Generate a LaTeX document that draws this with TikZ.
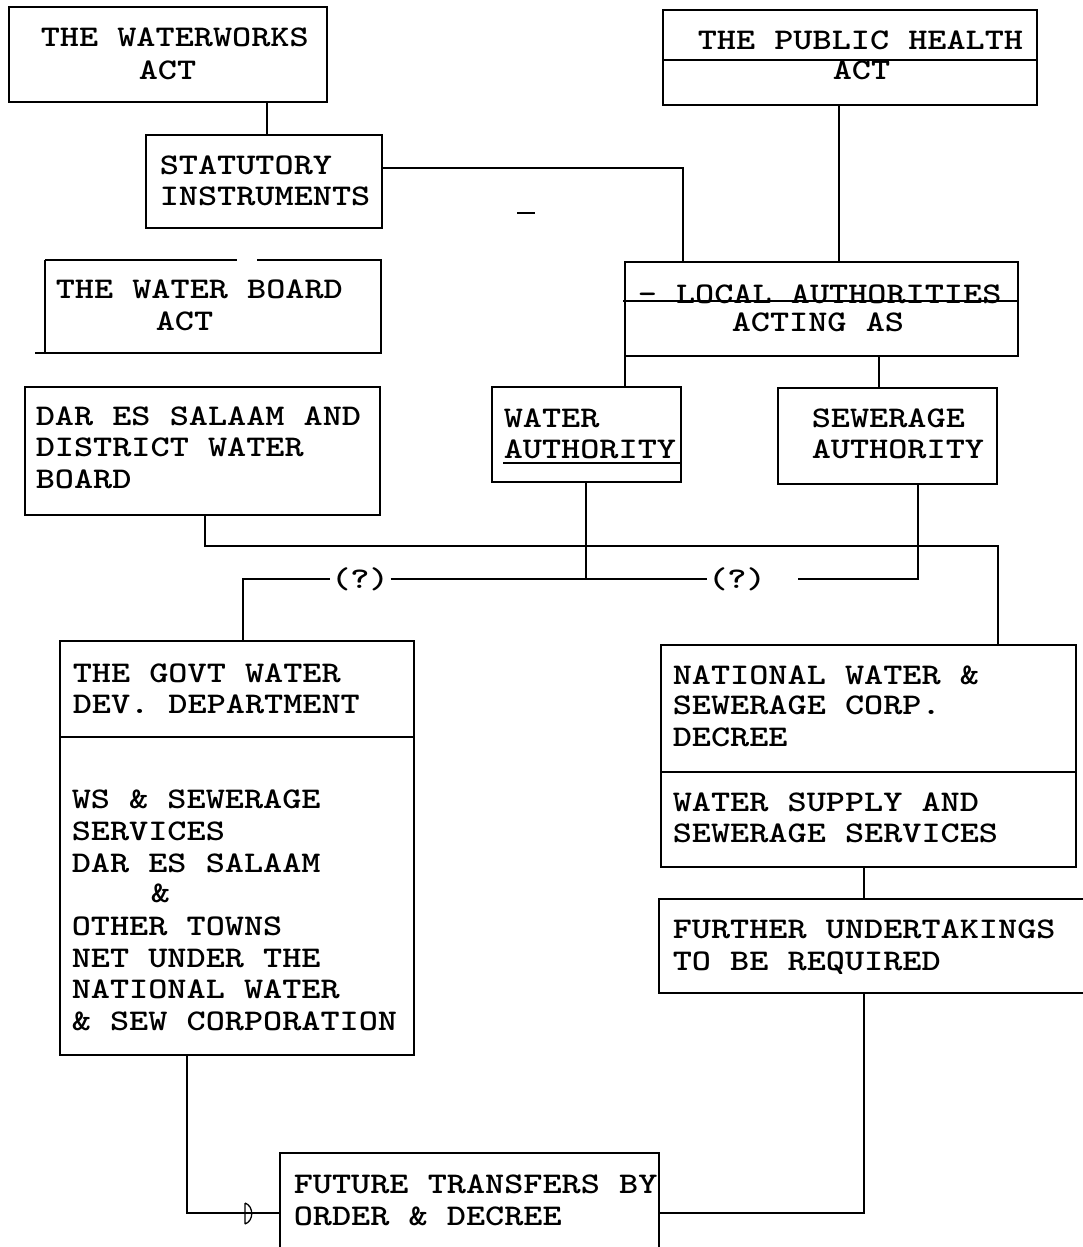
\documentclass[tikz,border=0pt]{standalone}
\usepackage{graphicx}
\newcommand{\tw}[1]{\scalebox{1.215}[1]{#1}}
\newcommand{\tline}[4]{\node[lbl] (#1) at (#2,#3) {\tw{#4}};}
\begin{document}
\begin{tikzpicture}[x=1pt,y=-1pt,line width=1.6pt,
  box/.style={draw,rectangle,inner sep=0pt,outer sep=0pt,anchor=north west},
  openbox/.style={rectangle,inner sep=0pt,outer sep=0pt,anchor=north west},
  lbl/.style={anchor=base west,inner sep=0pt,font=\fontsize{30}{32}\selectfont\ttfamily\bfseries},
  qlbl/.style={anchor=base,inner sep=1pt,font=\fontsize{30}{32}\selectfont\ttfamily\bfseries}]
\useasboundingbox (0,0) rectangle (1083,1247);

% boxes
\node[box,minimum width=318,minimum height=95] (ww) at (9,7) {};
\node[box,minimum width=236,minimum height=93] (stat) at (146,135) {};
\node[openbox,minimum width=336,minimum height=93] (wb) at (45,260) {};
\node[box,minimum width=374,minimum height=95] (ph) at (663,10) {};
\node[box,minimum width=393,minimum height=94] (la) at (625,262) {};
\node[box,minimum width=355,minimum height=128] (dar) at (25,387) {};
\node[box,minimum width=189,minimum height=95] (wa) at (492,387) {};
\node[box,minimum width=219,minimum height=96] (sew) at (778,388) {};
\node[box,minimum width=354,minimum height=414] (govt) at (60,641) {};
\node[box,minimum width=415,minimum height=222] (nw) at (661,645) {};
\node[openbox,minimum width=424,minimum height=94] (fur) at (659,899) {};
\node[openbox,minimum width=379,minimum height=94] (fut) at (280,1153) {};

% special box outlines
\draw (wb.north west) -- (237,260) (257,260) -- (wb.north east) -- (wb.south east) -- (35,353);
\draw (wb.south west) -- (wb.north west);
\draw (fur.north east) -- (fur.north west) -- (fur.south west) -- (fur.south east);
\draw (fut.south west) -- (fut.north west) -- (fut.north east) -- (fut.south east);
\draw (ph.west |- 0,60) -- (ph.east |- 0,60);
\draw (govt.west |- 0,737) -- (govt.east |- 0,737);
\draw (nw.west |- 0,772) -- (nw.east |- 0,772);

% texts
\tline{ww1}{40}{47}{THE WATERWORKS}
\tline{ww2}{138}{80}{ACT}
\tline{st1}{159}{174}{STATUTORY}
\tline{st2}{159}{205}{INSTRUMENTS}
\tline{wb1}{55}{298}{THE WATER BOARD}
\tline{wb2}{155}{330}{ACT}
\tline{ph1}{697}{49}{THE PUBLIC HEALTH}
\tline{ph2}{832}{79}{ACT}
\tline{la1}{637}{303}{- LOCAL AUTHORITIES}
\tline{la2}{731}{331}{ACTING AS}
\draw (623,301) -- (la.east |- 0,301);
\tline{da1}{35}{425}{DAR ES SALAAM AND}
\tline{da2}{35}{456}{DISTRICT WATER}
\tline{da3}{35}{488}{BOARD}
\tline{wa1}{503}{427}{WATER}
\tline{wa2}{503}{458}{AUTHORITY}
\draw (wa2.base west |- 0,463) -- (wa.east |- 0,463);
\tline{se1}{811}{427}{SEWERAGE}
\tline{se2}{811}{458}{AUTHORITY}
\tline{gv1}{72}{682}{THE GOVT WATER}
\tline{gv2}{72}{713}{DEV. DEPARTMENT}
\tline{gv3}{71}{808}{WS \& SEWERAGE}
\tline{gv4}{71}{840}{SERVICES}
\tline{gv5}{71}{872}{DAR ES SALAAM}
\tline{gv6}{150}{902}{\&}
\tline{gv7}{71}{935}{OTHER TOWNS}
\tline{gv8}{71}{967}{NET UNDER THE}
\tline{gv9}{71}{998}{NATIONAL WATER}
\tline{gv10}{71}{1030}{\& SEW CORPORATION}
\tline{nw1}{672}{684}{NATIONAL WATER \&}
\tline{nw2}{672}{714}{SEWERAGE CORP.}
\tline{nw3}{672}{746}{DECREE}
\tline{nw4}{672}{811}{WATER SUPPLY AND}
\tline{nw5}{672}{842}{SEWERAGE SERVICES}
\tline{fu1}{672}{938}{FURTHER UNDERTAKINGS}
\tline{fu2}{672}{970}{TO BE REQUIRED}
\tline{ft1}{293}{1193}{FUTURE TRANSFERS BY}
\tline{ft2}{293}{1225}{ORDER \& DECREE}

% question labels
\node[qlbl] (q1) at (360,588) {\tw{(?)}};
\node[qlbl] (q2) at (737,588) {\tw{(?)}};

% connectors
\draw (ww.south -| 267,0) -- (stat.north -| 267,0);
\draw (stat.east |- 0,168) -| (la.north -| 683,0);
\draw (ph.south -| 839,0) -- (la.north -| 839,0);
\draw (la.south west) -- (wa.north -| la.south west);
\draw (la.south -| 879,0) -- (sew.north -| 879,0);
\coordinate (j1) at (998,546);
\draw (dar.south -| 205,0) |- (j1) -- (nw.north -| j1);
\draw (govt.north -| 243,0) |- (q1.west);
\draw (q1.east) -- (q2.west);
\draw (wa.south -| 586,0) -- (q1.east -| 586,0);
\draw (sew.south -| 918,0) |- ([xshift=30pt]q2.east);
\draw (nw.south -| 864,0) -- (fur.north -| 864,0);
\draw (fur.south -| 864,0) |- (fut.east |- 0,1213);
\draw (govt.south -| 187,0) |- (fut.west |- 0,1213);
\draw[line width=1.3pt] (245,1203) -- (245,1224) (245,1203) .. controls (254,1206) and (254,1221) .. (245,1224);
\draw (517,213) -- (535,213);
\end{tikzpicture}
\end{document}
